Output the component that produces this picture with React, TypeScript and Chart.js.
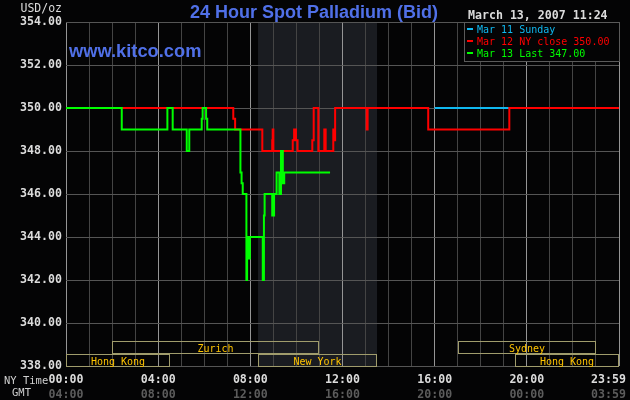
import React, { useEffect, useRef } from "react";
import { Chart, registerables } from "chart.js";

Chart.register(...registerables);

// ---------- texts ----------
const chartTitle = "24 Hour Spot Palladium (Bid)";
const siteName = "www.kitco.com";
const stampText = "March 13, 2007 11:24";
const unitLabel = "USD/oz";
const rowLabels = ["NY Time", "GMT"];

// ---------- axes ----------
const yMin = 338;
const yMax = 354;
const yStep = 2;
const hourTicks = [0, 4, 8, 12, 16, 20, 24];
const nyTimeLabels = ["00:00", "04:00", "08:00", "12:00", "16:00", "20:00", "23:59"];
const gmtLabels = ["04:00", "08:00", "12:00", "16:00", "20:00", "00:00", "03:59"];

// ---------- series (NY hour, USD/oz), each value holds until the next hour ----------
const greenLabel = "Mar 13 Last 347.00";
const greenHours = [0, 2.42, 4.4, 4.63, 5.24, 5.35, 5.89, 5.93, 6.08, 6.13, 7.57, 7.62, 7.67, 7.83, 7.86, 7.92, 7.98, 8.54, 8.59, 8.62, 8.95, 9.03, 9.14, 9.26, 9.33, 9.41, 9.47, 11.46];
const greenValues = [350, 349, 350, 349, 348, 349, 349.5, 350, 349.5, 349, 347, 346.5, 346, 342, 344, 343, 344, 342, 345, 346, 345, 346, 347, 346, 348, 346.5, 347, 347];

const redLabel = "Mar 12 NY close 350.00";
const redHours = [0, 7.26, 7.34, 8.52, 8.95, 8.97, 9.0, 9.84, 9.9, 9.98, 10.05, 10.69, 10.75, 10.95, 11.21, 11.27, 11.6, 11.64, 11.68, 13.05, 13.09, 15.72, 19.24, 24];
const redValues = [350, 349.5, 349, 348, 348.5, 349, 348, 348.5, 349, 348.5, 348, 348.5, 350, 348, 349, 348, 349, 348.5, 350, 349, 350, 349, 350, 350];

const blueLabel = "Mar 11 Sunday";
const blueHours = [16, 24];
const blueValues = [350, 350];

// ---------- trading sessions (NY hours) ----------
const nySessionStart = 8.333;
const nySessionEnd = 13.5;
const marketNames = ["Hong Kong", "Zurich", "New York", "Sydney", "Hong Kong"];
const marketStart = [0, 2, 8.333, 17, 19.5];
const marketEnd = [4.5, 11, 13.5, 23, 24];
const marketRow = [1, 0, 1, 0, 1];

const MONO = '"DejaVu Sans Mono", monospace';
const SANS = '"Liberation Sans", Arial, sans-serif';
const BLUE_TITLE = "rgb(80,112,232)";

const toPoints = (hs: number[], vs: number[]) => hs.map((h, i) => ({ x: h, y: vs[i] }));

const overlayPlugin = {
  id: "kitcoOverlay",
  beforeDraw(chart: any) {
    const { ctx, chartArea: a } = chart;
    const xs = chart.scales.x;
    ctx.save();
    ctx.fillStyle = "#040405";
    ctx.fillRect(0, 0, chart.width, chart.height);
    const x1 = xs.getPixelForValue(nySessionStart);
    const x2 = xs.getPixelForValue(nySessionEnd);
    ctx.fillStyle = "#1a1c21";
    ctx.fillRect(x1, a.top, x2 - x1, a.bottom - a.top);
    ctx.restore();
  },
  afterDraw(chart: any) {
    const { ctx, chartArea: a } = chart;
    const xs = chart.scales.x;
    ctx.save();

    // market session boxes
    ctx.lineWidth = 1;
    for (let i = 0; i < marketNames.length; i++) {
      const x1 = Math.round(xs.getPixelForValue(marketStart[i])) + 0.5;
      const x2 = Math.round(xs.getPixelForValue(marketEnd[i])) - 0.5;
      const top = marketRow[i] === 0 ? Math.round(a.bottom) - 24.5 : Math.round(a.bottom) - 11.5;
      ctx.strokeStyle = "#a09c6c";
      ctx.strokeRect(x1, top, x2 - x1, 12);
      ctx.font = `10px ${MONO}`;
      ctx.fillStyle = "#ffc400";
      ctx.textAlign = "center";
      ctx.textBaseline = "alphabetic";
      ctx.fillText(marketNames[i], (x1 + x2) / 2, top + 10);
    }

    // title and site
    ctx.textBaseline = "alphabetic";
    ctx.textAlign = "center";
    ctx.fillStyle = BLUE_TITLE;
    ctx.font = `bold 18px ${SANS}`;
    ctx.fillText(chartTitle, 314, 17.5);
    ctx.textAlign = "left";
    ctx.font = `bold 18.3px ${SANS}`;
    ctx.fillText(siteName, 69, 56.7);

    // date stamp
    ctx.fillStyle = "#dcdcdc";
    ctx.font = `bold 11.6px ${MONO}`;
    ctx.fillText(stampText, 468, 18.5);

    // unit
    ctx.textAlign = "right";
    ctx.font = `11.5px ${MONO}`;
    ctx.fillText(unitLabel, 62, 12.3);

    // legend box
    const lx = 464.5, ly = 22.5, lw = 155, lh = 39;
    ctx.fillStyle = "#040405";
    ctx.fillRect(lx, ly, lw, lh);
    ctx.strokeStyle = "#5a5a5a";
    ctx.strokeRect(lx, ly, lw, lh);
    const ds = chart.data.datasets.slice().reverse();
    ctx.font = `10px ${MONO}`;
    ctx.textAlign = "left";
    ds.forEach((d: any, i: number) => {
      const cy = 29 + i * 12;
      ctx.fillStyle = d.borderColor;
      ctx.fillRect(467, cy - 1, 6, 2);
      ctx.fillText(d.label, 477, cy + 3.5);
    });

    // x tick labels (NY time and GMT)
    ctx.font = `bold 11.6px ${MONO}`;
    hourTicks.forEach((h, i) => {
      const px = xs.getPixelForValue(h);
      const last = i === hourTicks.length - 1;
      ctx.textAlign = last ? "right" : "center";
      const tx = last ? 626 : px;
      ctx.fillStyle = "#dcdcdc";
      ctx.fillText(nyTimeLabels[i], tx, 382.5);
      ctx.fillStyle = "#5c5c5c";
      ctx.fillText(gmtLabels[i], tx, 398.3);
    });

    // row labels
    ctx.font = `10.5px ${MONO}`;
    ctx.fillStyle = "#d0d0d0";
    ctx.textAlign = "left";
    ctx.fillText(rowLabels[0], 4, 384.3);
    ctx.fillText(rowLabels[1], 12, 396);

    ctx.restore();
  },
};

export default function App() {
  const canvasRef = useRef<HTMLCanvasElement | null>(null);

  useEffect(() => {
    const canvas = canvasRef.current;
    if (!canvas) return;
    const chart = new Chart(canvas, {
      type: "line",
      data: {
        datasets: [
          {
            label: greenLabel,
            data: toPoints(greenHours, greenValues),
            borderColor: "#00ff00",
            borderWidth: 2,
            stepped: true,
            pointRadius: 0,
            fill: false,
          },
          {
            label: redLabel,
            data: toPoints(redHours, redValues),
            borderColor: "#ff0000",
            borderWidth: 2,
            stepped: true,
            pointRadius: 0,
            fill: false,
          },
          {
            label: blueLabel,
            data: toPoints(blueHours, blueValues),
            borderColor: "#10b8f0",
            borderWidth: 2,
            stepped: true,
            pointRadius: 0,
            fill: false,
          },
        ],
      },
      options: {
        animation: false,
        responsive: false,
        devicePixelRatio: 1,
        layout: { padding: { left: 0, top: 22, right: 11, bottom: 0 } },
        plugins: {
          legend: { display: false },
          tooltip: { enabled: false },
          title: { display: false },
        },
        scales: {
          x: {
            type: "linear",
            min: 0,
            max: 24,
            ticks: { display: false, stepSize: 1, autoSkip: false },
            grid: {
              drawTicks: false,
              lineWidth: 1,
              color: (c: any) =>
                c.tick && Math.round(c.tick.value) % 4 === 0 ? "#959595" : "#444444",
            },
            border: { display: false },
            afterFit: (s: any) => {
              s.height = 34;
              s.paddingLeft = 0;
              s.paddingRight = 0;
            },
          },
          y: {
            type: "linear",
            min: yMin,
            max: yMax,
            ticks: {
              stepSize: yStep,
              padding: 4,
              color: "#dcdcdc",
              font: { family: MONO, size: 11.6, weight: "bold" },
              callback: (v: any) => Number(v).toFixed(2),
            },
            grid: { drawTicks: false, color: "#555555", lineWidth: 1 },
            border: { display: false },
            afterFit: (s: any) => {
              s.width = 66;
            },
          },
        },
      },
      plugins: [overlayPlugin],
    });
    return () => chart.destroy();
  }, []);

  return (
    <div
      style={{
        position: "fixed",
        left: 0,
        top: 0,
        width: 630,
        height: 400,
        background: "#040405",
      }}
    >
      <canvas ref={canvasRef} width={630} height={400} style={{ display: "block" }} />
    </div>
  );
}
